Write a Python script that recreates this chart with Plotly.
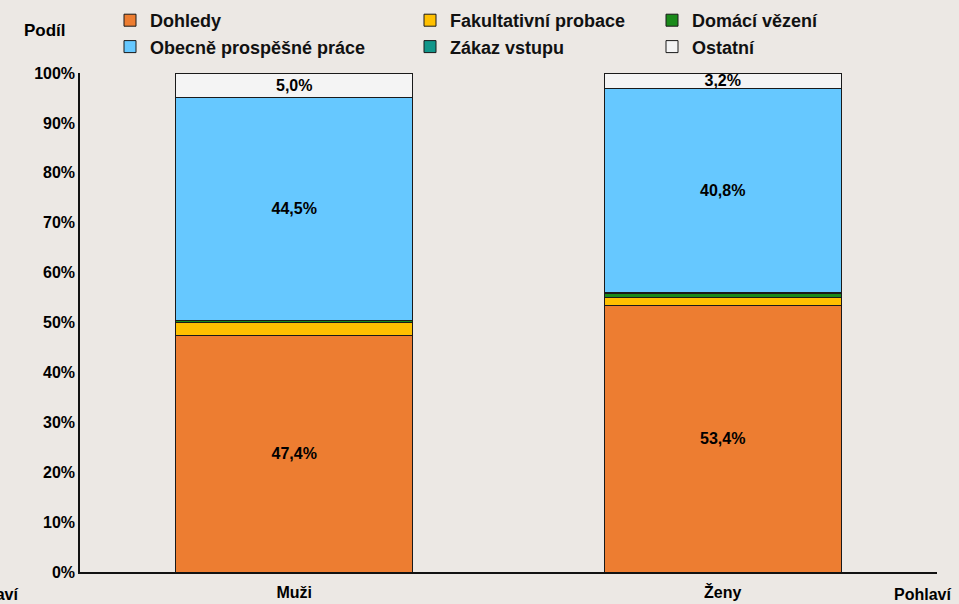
import plotly.graph_objects as go

categories = ["Muži", "Ženy"]
series_names = ["Dohledy", "Fakultativní probace", "Domácí vězení",
                "Zákaz vstupu", "Obecně prospěšné práce", "Ostatní"]
dohledy = [47.4, 53.4]
fakultativni = [2.6, 1.7]
domaci = [0.4, 0.8]
zakaz = [0.1, 0.1]
obecne = [44.5, 40.8]
ostatni = [5.0, 3.2]
y_ticks = [0, 10, 20, 30, 40, 50, 60, 70, 80, 90, 100]
y_tick_labels = ["0%", "10%", "20%", "30%", "40%", "50%", "60%", "70%", "80%", "90%", "100%"]

values = [dohledy, fakultativni, domaci, zakaz, obecne, ostatni]
colors = ["#ed7d31", "#ffc000", "#1a8a1a", "#12968a", "#66c8ff", "#f4f4f4"]
labelled = {"Dohledy", "Obecně prospěšné práce", "Ostatní"}
# legend column placement (three columns, two rows)
legend_of = ["legend", "legend2", "legend3", "legend2", "legend", "legend3"]

FONT = "Liberation Sans, Arial, sans-serif"

fig = go.Figure()
for name, vals, col, lg in zip(series_names, values, colors, legend_of):
    show = name in labelled
    fig.add_trace(go.Bar(
        x=categories, y=vals, name=name,
        marker=dict(color=col, line=dict(color="#1a1a1a", width=1)),
        text=[f"{v:.1f}".replace(".", ",") + "%" for v in vals] if show else None,
        textposition="inside" if show else "none",
        insidetextanchor="middle",
        constraintext="none",
        textfont=dict(family=FONT, size=16, color="black", weight="bold"),
        legend=lg, legendgroup=name,
    ))

legend_style = dict(
    font=dict(family=FONT, size=18, color="#111111", weight="bold"),
    bgcolor="rgba(0,0,0,0)", orientation="v", yanchor="top", xanchor="left",
    itemwidth=30, tracegroupgap=0, traceorder="grouped",
)
LEG_Y = (572 - 2) / 499
fig.update_layout(
    width=959, height=604,
    margin=dict(l=80, r=22, t=73, b=32, autoexpand=False),
    paper_bgcolor="#ece8e4", plot_bgcolor="rgba(0,0,0,0)",
    barmode="stack", bargap=0.447,
    font=dict(family=FONT, color="black"),
    legend=dict(x=(110 - 80) / 857, y=LEG_Y, **legend_style),
    legend2=dict(x=(410 - 80) / 857, y=LEG_Y, **legend_style),
    legend3=dict(x=(652 - 80) / 857, y=LEG_Y, **legend_style),
    xaxis=dict(showline=True, linecolor="#111111", linewidth=1.5, ticks="",
               ticklabelstandoff=5,
               tickfont=dict(size=16, weight="bold", family=FONT),
               showgrid=False),
    yaxis=dict(range=[0, 100], tickmode="array", tickvals=y_ticks,
               ticktext=y_tick_labels,
               showline=True, linecolor="#111111", linewidth=1.5,
               showgrid=False, zeroline=False, ticks="",
               tickfont=dict(size=16, weight="bold", family=FONT)),
)

fig.add_annotation(text="Podíl", xref="paper", yref="paper", x=-0.041, y=1.086,
                   xanchor="center", yanchor="middle",
                   showarrow=False, font=dict(size=17, weight="bold", family=FONT))
fig.add_annotation(text="Pohlaví", xref="paper", yref="paper", x=0.948, y=-0.025,
                   xanchor="left", yanchor="top", showarrow=False,
                   font=dict(size=16, weight="bold", family=FONT))
fig.add_annotation(text="Pohlaví", xref="paper", yref="paper", x=-0.07, y=-0.025,
                   xanchor="right", yanchor="top", showarrow=False,
                   font=dict(size=16, weight="bold", family=FONT))

fig.write_html("out.html", config={"displayModeBar": False},
               post_script="document.body.style.margin='0';")
